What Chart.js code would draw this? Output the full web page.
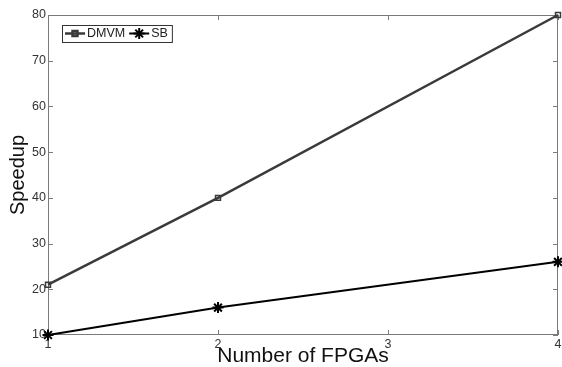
<!DOCTYPE html>
<html>
<head>
<meta charset="utf-8">
<script src="https://cdn.jsdelivr.net/npm/chart.js@4.4.1/dist/chart.umd.min.js"></script>
<style>
  html, body { margin: 0; padding: 0; background: #fff; }
  #wrap { width: 562px; height: 367px; position: relative; }
</style>
</head>
<body>
<div id="wrap"><canvas id="speedupChart" width="562" height="367"></canvas></div>
<script>
// ---------- data ----------
const fpgaCounts = [1, 2, 4];
const dmvmSpeedup = [21, 40, 80];
const sbSpeedup = [10, 16, 26];
const xTicks = [1, 2, 3, 4];
const yTicks = [10, 20, 30, 40, 50, 60, 70, 80];

const FONT = "'Liberation Sans', Arial, Helvetica, sans-serif";
const BOX_COLOR = "#7a7a7a";
const TEXT_COLOR = "#333";

function toPoints(xs, ys) {
  return xs.map((x, i) => ({ x, y: ys[i] }));
}

// MATLAB-like frame: box around plot area with inward ticks on all four sides
const framePlugin = {
  id: "frame",
  beforeDatasetsDraw(chart) {
    const { ctx, chartArea: a, scales } = chart;
    ctx.save();
    ctx.strokeStyle = BOX_COLOR;
    ctx.lineWidth = 1;
    ctx.strokeRect(a.left + 0.5, a.top + 0.5, a.right - a.left - 1, a.bottom - a.top - 1);
    const len = 5;
    ctx.beginPath();
    xTicks.forEach((v) => {
      const px = Math.round(scales.x.getPixelForValue(v)) + 0.5;
      ctx.moveTo(px, a.bottom); ctx.lineTo(px, a.bottom - len);
      ctx.moveTo(px, a.top); ctx.lineTo(px, a.top + len);
    });
    yTicks.forEach((v) => {
      const py = Math.round(scales.y.getPixelForValue(v)) + 0.5;
      ctx.moveTo(a.left, py); ctx.lineTo(a.left + len, py);
      ctx.moveTo(a.right, py); ctx.lineTo(a.right - len, py);
    });
    ctx.stroke();
    ctx.restore();
  }
};

// boxed legend in the upper-left corner of the plot
const boxLegendPlugin = {
  id: "boxLegend",
  afterDraw(chart) {
    const { ctx, chartArea: a } = chart;
    const left = a.left + 14, top = a.top + 10, h = 17;
    ctx.save();
    ctx.font = "12.5px " + FONT;
    ctx.textBaseline = "middle";
    let x = left + 3;
    const cy = top + h / 2;
    chart.data.datasets.forEach((ds) => {
      ctx.strokeStyle = ds.borderColor;
      ctx.lineWidth = ds.borderWidth;
      ctx.beginPath();
      ctx.moveTo(x, cy); ctx.lineTo(x + 20, cy);
      ctx.stroke();
      ctx.strokeStyle = ds.pointBorderColor;
      ctx.fillStyle = ds.pointBackgroundColor;
      Chart.helpers.drawPoint(ctx, {
        pointStyle: ds.pointStyle,
        radius: ds.pointRadius,
        borderWidth: ds.pointBorderWidth
      }, x + 10, cy);
      ctx.fillStyle = "#222";
      ctx.fillText(ds.label, x + 22, cy + 0.5);
      x += 22 + ctx.measureText(ds.label).width + 4;
    });
    ctx.strokeStyle = "#333";
    ctx.lineWidth = 1;
    ctx.strokeRect(left + 0.5, top + 0.5, x - left, h);
    ctx.restore();
  }
};

const ctx = document.getElementById("speedupChart");
new Chart(ctx, {
  type: "line",
  data: {
    datasets: [
      {
        label: "DMVM",
        data: toPoints(fpgaCounts, dmvmSpeedup),
        borderColor: "#3a3a3a",
        borderWidth: 2.5,
        pointStyle: "rect",
        pointRadius: 3.5,
        pointBorderWidth: 1.5,
        pointBorderColor: "#3a3a3a",
        pointBackgroundColor: "rgba(255,255,255,0)",
        tension: 0,
        clip: false
      },
      {
        label: "SB",
        data: toPoints(fpgaCounts, sbSpeedup),
        borderColor: "#000",
        borderWidth: 2,
        pointStyle: "star",
        pointRadius: 5.5,
        pointBorderWidth: 2,
        pointBorderColor: "#000",
        pointBackgroundColor: "#000",
        tension: 0,
        clip: false
      }
    ]
  },
  options: {
    responsive: false,
    animation: false,
    devicePixelRatio: 1,
    layout: { autoPadding: false, padding: { top: 15, right: 4, left: 0, bottom: 0 } },
    plugins: { legend: { display: false }, tooltip: { enabled: false } },
    scales: {
      x: {
        type: "linear",
        min: 1,
        max: 4,
        afterBuildTicks: (s) => { s.ticks = xTicks.map((v) => ({ value: v })); },
        afterFit: (s) => { s.height = 32; s.paddingLeft = 0; s.paddingRight = 0; },
        grid: { display: false, drawTicks: false },
        border: { display: false },
        ticks: { color: TEXT_COLOR, font: { family: FONT, size: 12.5 }, padding: 2, maxRotation: 0, autoSkip: false },
        title: { display: true, text: "Number of FPGAs", color: "#111", font: { family: FONT, size: 21 }, padding: { top: 0, bottom: -2 } }
      },
      y: {
        min: 10,
        max: 80,
        afterBuildTicks: (s) => { s.ticks = yTicks.map((v) => ({ value: v })); },
        afterFit: (s) => { s.width = 48; },
        grid: { display: false, drawTicks: false },
        border: { display: false },
        ticks: { color: TEXT_COLOR, font: { family: FONT, size: 12.5 }, padding: 2, autoSkip: false },
        title: { display: true, text: "Speedup", color: "#111", font: { family: FONT, size: 20 }, padding: { top: 6, bottom: 0 } }
      }
    }
  },
  plugins: [framePlugin, boxLegendPlugin]
});
</script>
</body>
</html>
